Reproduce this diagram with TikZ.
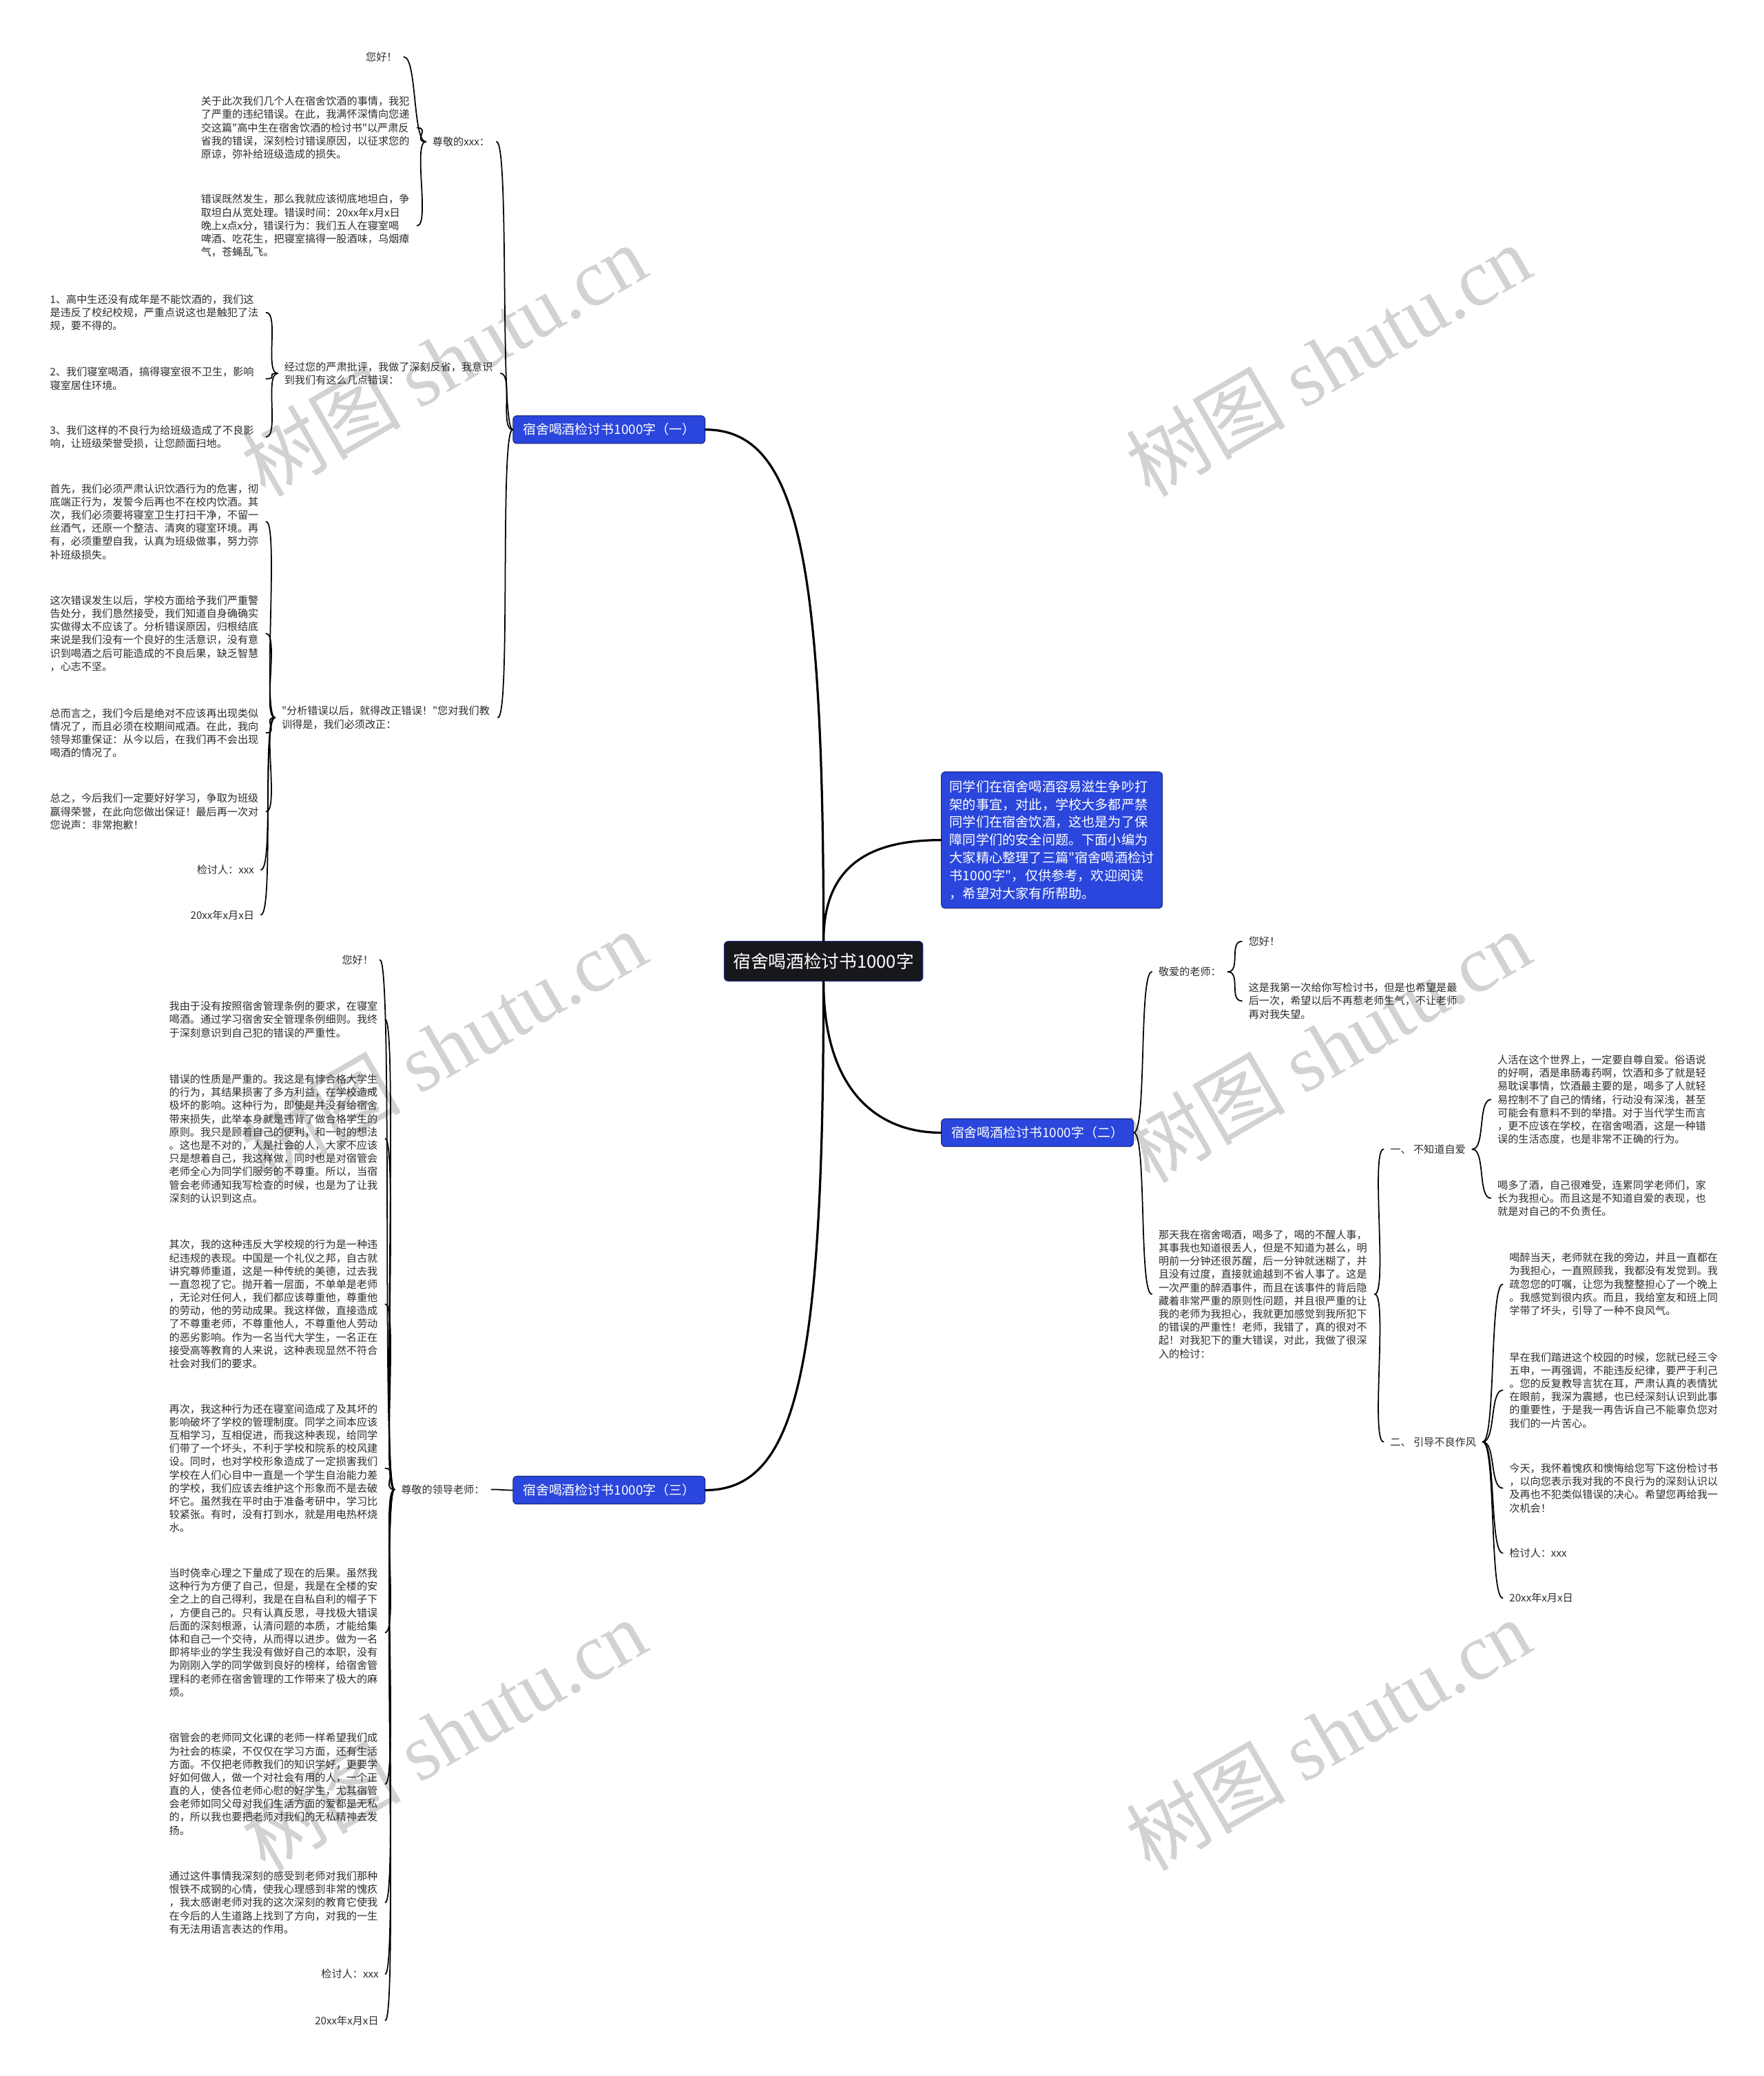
\documentclass[tikz,border=0pt]{standalone}
\usepackage{fontspec}
\newfontfamily\cjkfont{Noto Sans CJK SC}
\newfontfamily\wmfont{Liberation Serif}
\definecolor{mapblue}{RGB}{42,70,220}
\definecolor{mapnavy}{RGB}{22,38,120}
\definecolor{topicfill}{RGB}{24,24,28}
\definecolor{inkgray}{RGB}{45,45,45}
\definecolor{markgray}{RGB}{210,210,210}
\begin{document}
\begin{tikzpicture}[x=0.5mm,y=0.5mm,
  topicbox/.style={fill=topicfill,draw=mapblue!60!black,line width=0.8pt,rounded corners=1.5mm,text=white,font=\cjkfont\fontsize{19}{22}\selectfont,minimum width=75mm,minimum height=15mm,inner sep=0pt},
  branchbox/.style={fill=mapblue,draw=mapnavy,line width=0.8pt,rounded corners=1.5mm,text=white,font=\cjkfont\fontsize{14}{17}\selectfont,minimum width=72.5mm,minimum height=10.5mm,inner sep=0pt},
  introbox/.style={branchbox,align=left,font=\cjkfont\fontsize{14.2}{19.1}\selectfont,minimum width=83.5mm,minimum height=51.5mm},
  leaf/.style={text=inkgray,font=\cjkfont\fontsize{11.2}{14.2}\selectfont,align=left,inner xsep=7pt,inner ysep=0pt},
  para/.style={leaf,text width=225pt},
  wmark/.style={text=markgray,rotate=30,font=\cjkfont\fontsize{86}{86}\selectfont},
  conn/.style={line width=1.3pt,line cap=round},
  trunk/.style={line width=2.4pt,line cap=round},
  lconn/.style={conn,out=180,in=0,distance=5mm},
  rconn/.style={conn,out=0,in=180,distance=5mm}]

\fill[white] (0,0) rectangle (1332,-1568);
\useasboundingbox (0,0) rectangle (1332,-1568);

% watermarks
\node[wmark] (wm1) at (335,-272) {树图 {\wmfont shutu.cn}};
\node[wmark] (wm2) at (1003,-272) {树图 {\wmfont shutu.cn}};
\node[wmark] (wm3) at (335,-790) {树图 {\wmfont shutu.cn}};
\node[wmark] (wm4) at (1003,-790) {树图 {\wmfont shutu.cn}};
\node[wmark] (wm5) at (335,-1310) {树图 {\wmfont shutu.cn}};
\node[wmark] (wm6) at (1003,-1310) {树图 {\wmfont shutu.cn}};

% centre
\node[topicbox] (topic) at (622,-726) {宿舍喝酒检讨书1000字};
\node[introbox] (intro) at (794.5,-634.5) {同学们在宿舍喝酒容易滋生争吵打\\
架的事宜，对此，学校大多都严禁\\
同学们在宿舍饮酒，这也是为了保\\
障同学们的安全问题。下面小编为\\
大家精心整理了三篇"宿舍喝酒检讨\\
书1000字"，仅供参考，欢迎阅读\\
，希望对大家有所帮助。};
\node[branchbox] (b1) at (460,-324.5) {宿舍喝酒检讨书1000字（一）};
\node[branchbox] (b2) at (783.5,-855.5) {宿舍喝酒检讨书1000字（二）};
\node[branchbox] (b3) at (460,-1125.5) {宿舍喝酒检讨书1000字（三）};

% branch one
\node[leaf,anchor=east] (b1a) at (375,-107) {尊敬的xxx：};
\node[leaf,anchor=east] (b1a1) at (305,-43) {您好！};
\node[para,anchor=east] (b1a2) at (315,-96.5) {关于此次我们几个人在宿舍饮酒的事情，我犯\\
了严重的违纪错误。在此，我满怀深情向您递\\
交这篇"高中生在宿舍饮酒的检讨书"以严肃反\\
省我的错误，深刻检讨错误原因，以征求您的\\
原谅，弥补给班级造成的损失。};
\node[para,anchor=east] (b1a3) at (315,-170.5) {错误既然发生，那么我就应该彻底地坦白，争\\
取坦白从宽处理。错误时间：20xx年x月x日\\
晚上x点x分，错误行为：我们五人在寝室喝\\
啤酒、吃花生，把寝室搞得一股酒味，乌烟瘴\\
气，苍蝇乱飞。};
\node[para,anchor=east] (b1b) at (378,-282) {经过您的严肃批评，我做了深刻反省，我意识\\
到我们有这么几点错误：};
\node[para,anchor=east] (b1b1) at (201,-236) {1、高中生还没有成年是不能饮酒的，我们这\\
是违反了校纪校规，严重点说这也是触犯了法\\
规，要不得的。};
\node[para,anchor=east] (b1b2) at (201,-286) {2、我们寝室喝酒，搞得寝室很不卫生，影响\\
寝室居住环境。};
\node[para,anchor=east] (b1b3) at (201,-330) {3、我们这样的不良行为给班级造成了不良影\\
响，让班级荣誉受损，让您颜面扫地。};
\node[para,anchor=east] (b1c) at (376,-542) {"分析错误以后，就得改正错误！"您对我们教\\
训得是，我们必须改正：};
\node[para,anchor=east] (b1c1) at (201,-394) {首先，我们必须严肃认识饮酒行为的危害，彻\\
底端正行为，发誓今后再也不在校内饮酒。其\\
次，我们必须要将寝室卫生打扫干净，不留一\\
丝酒气，还原一个整洁、清爽的寝室环境。再\\
有，必须重塑自我，认真为班级做事，努力弥\\
补班级损失。};
\node[para,anchor=east] (b1c2) at (201,-478.5) {这次错误发生以后，学校方面给予我们严重警\\
告处分，我们恳然接受，我们知道自身确确实\\
实做得太不应该了。分析错误原因，归根结底\\
来说是我们没有一个良好的生活意识，没有意\\
识到喝酒之后可能造成的不良后果，缺乏智慧\\
，心志不坚。};
\node[para,anchor=east] (b1c3) at (201,-553.5) {总而言之，我们今后是绝对不应该再出现类似\\
情况了，而且必须在校期间戒酒。在此，我向\\
领导郑重保证：从今以后，在我们再不会出现\\
喝酒的情况了。};
\node[para,anchor=east] (b1c4) at (201,-613) {总之，今后我们一定要好好学习，争取为班级\\
赢得荣誉，在此向您做出保证！最后再一次对\\
您说声：非常抱歉！};
\node[leaf,anchor=east] (b1c5) at (197,-657) {检讨人：xxx};
\node[leaf,anchor=east] (b1c6) at (197,-691) {20xx年x月x日};

% branch two
\node[leaf,anchor=west] (b2a) at (870,-734) {敬爱的老师：};
\node[leaf,anchor=west] (b2a1) at (938,-711) {您好！};
\node[para,anchor=west] (b2a2) at (938,-756) {这是我第一次给你写检讨书，但是也希望是最\\
后一次，希望以后不再惹老师生气，不让老师\\
再对我失望。};
\node[para,anchor=west] (b2b) at (870,-977.5) {那天我在宿舍喝酒，喝多了，喝的不醒人事，\\
其事我也知道很丢人，但是不知道为甚么，明\\
明前一分钟还很苏醒，后一分钟就迷糊了，并\\
且没有过度，直接就逾越到不省人事了。这是\\
一次严重的醉酒事件，而且在该事件的背后隐\\
藏着非常严重的原则性问题，并且很严重的让\\
我的老师为我担心，我就更加感觉到我所犯下\\
的错误的严重性！老师，我错了，真的很对不\\
起！对我犯下的重大错误，对此，我做了很深\\
入的检讨：};
\node[leaf,anchor=west] (b2c) at (1045,-868) {一、 不知道自爱};
\node[para,anchor=west] (b2c1) at (1126,-830.5) {人活在这个世界上，一定要自尊自爱。俗语说\\
的好啊，酒是串肠毒药啊，饮酒和多了就是轻\\
易耽误事情，饮酒最主要的是，喝多了人就轻\\
易控制不了自己的情绪，行动没有深浅，甚至\\
可能会有意料不到的举措。对于当代学生而言\\
，更不应该在学校，在宿舍喝酒，这是一种错\\
误的生活态度，也是非常不正确的行为。};
\node[para,anchor=west] (b2c2) at (1126,-905) {喝多了酒，自己很难受，连累同学老师们，家\\
长为我担心。而且这是不知道自爱的表现，也\\
就是对自己的不负责任。};
\node[leaf,anchor=west] (b2d) at (1045,-1089) {二、 引导不良作风};
\node[para,anchor=west] (b2d1) at (1135,-970) {喝醉当天，老师就在我的旁边，并且一直都在\\
为我担心，一直照顾我，我都没有发觉到。我\\
疏忽您的叮嘱，让您为我整整担心了一个晚上\\
。我感觉到很内疚。而且，我给室友和班上同\\
学带了坏头，引导了一种不良风气。};
\node[para,anchor=west] (b2d2) at (1135,-1050) {早在我们踏进这个校园的时候，您就已经三令\\
五申，一再强调，不能违反纪律，要严于利己\\
。您的反复教导言犹在耳，严肃认真的表情犹\\
在眼前，我深为震撼，也已经深刻认识到此事\\
的重要性，于是我一再告诉自己不能辜负您对\\
我们的一片苦心。};
\node[para,anchor=west] (b2d3) at (1135,-1124) {今天，我怀着愧疚和懊悔给您写下这份检讨书\\
，以向您表示我对我的不良行为的深刻认识以\\
及再也不犯类似错误的决心。希望您再给我一\\
次机会！};
\node[leaf,anchor=west] (b2d4) at (1135,-1173) {检讨人：xxx};
\node[leaf,anchor=west] (b2d5) at (1135,-1207) {20xx年x月x日};

% branch three
\node[leaf,anchor=east] (b3a) at (371,-1125) {尊敬的领导老师：};
\node[leaf,anchor=east] (b3a1) at (287,-725) {您好！};
\node[para,anchor=east] (b3a2) at (291,-770) {我由于没有按照宿舍管理条例的要求，在寝室\\
喝酒。通过学习宿舍安全管理条例细则。我终\\
于深刻意识到自己犯的错误的严重性。};
\node[para,anchor=east] (b3a3) at (291,-860) {错误的性质是严重的。我这是有悖合格大学生\\
的行为，其结果损害了多方利益，在学校造成\\
极坏的影响。这种行为，即使是并没有给宿舍\\
带来损失，此举本身就是违背了做合格学生的\\
原则。我只是顾着自己的便利，和一时的想法\\
。这也是不对的，人是社会的人，大家不应该\\
只是想着自己，我这样做，同时也是对宿管会\\
老师全心为同学们服务的不尊重。所以，当宿\\
管会老师通知我写检查的时候，也是为了让我\\
深刻的认识到这点。};
\node[para,anchor=east] (b3a4) at (291,-985) {其次，我的这种违反大学校规的行为是一种违\\
纪违规的表现。中国是一个礼仪之邦，自古就\\
讲究尊师重道，这是一种传统的美德，过去我\\
一直忽视了它。抛开着一层面，不单单是老师\\
，无论对任何人，我们都应该尊重他，尊重他\\
的劳动，他的劳动成果。我这样做，直接造成\\
了不尊重老师，不尊重他人，不尊重他人劳动\\
的恶劣影响。作为一名当代大学生，一名正在\\
接受高等教育的人来说，这种表现显然不符合\\
社会对我们的要求。};
\node[para,anchor=east] (b3a5) at (291,-1109) {再次，我这种行为还在寝室间造成了及其坏的\\
影响破坏了学校的管理制度。同学之间本应该\\
互相学习，互相促进，而我这种表现，给同学\\
们带了一个坏头，不利于学校和院系的校风建\\
设。同时，也对学校形象造成了一定损害我们\\
学校在人们心目中一直是一个学生自治能力差\\
的学校，我们应该去维护这个形象而不是去破\\
坏它。虽然我在平时由于准备考研中，学习比\\
较紧张。有时，没有打到水，就是用电热杯烧\\
水。};
\node[para,anchor=east] (b3a6) at (291,-1233) {当时侥幸心理之下量成了现在的后果。虽然我\\
这种行为方便了自己，但是，我是在全楼的安\\
全之上的自己得利，我是在自私自利的帽子下\\
，方便自己的。只有认真反思，寻找极大错误\\
后面的深刻根源，认清问题的本质，才能给集\\
体和自己一个交待，从而得以进步。做为一名\\
即将毕业的学生我没有做好自己的本职，没有\\
为刚刚入学的同学做到良好的榜样，给宿舍管\\
理科的老师在宿舍管理的工作带来了极大的麻\\
烦。};
\node[para,anchor=east] (b3a7) at (291,-1347.5) {宿管会的老师同文化课的老师一样希望我们成\\
为社会的栋梁，不仅仅在学习方面，还有生活\\
方面。不仅把老师教我们的知识学好，更要学\\
好如何做人，做一个对社会有用的人，一个正\\
直的人，使各位老师心慰的好学生，尤其宿管\\
会老师如同父母对我们生活方面的爱都是无私\\
的，所以我也要把老师对我们的无私精神去发\\
扬。};
\node[para,anchor=east] (b3a8) at (291,-1437) {通过这件事情我深刻的感受到老师对我们那种\\
恨铁不成钢的心情，使我心理感到非常的愧疚\\
，我太感谢老师对我的这次深刻的教育它使我\\
在今后的人生道路上找到了方向，对我的一生\\
有无法用语言表达的作用。};
\node[leaf,anchor=east] (b3a9) at (291,-1491) {检讨人：xxx};
\node[leaf,anchor=east] (b3a10) at (291,-1526) {20xx年x月x日};

% connectors
\draw[trunk] (topic.north) to[out=90,in=0,out distance=145mm,in distance=35mm] (b1.east);
\draw[trunk] (topic.north) to[out=90,in=180,out distance=30mm,in distance=25mm] (intro.west);
\draw[trunk] (topic.south) to[out=-90,in=180,out distance=40mm,in distance=25mm] (b2.west);
\draw[trunk] (topic.south) to[out=-90,in=0,out distance=145mm,in distance=35mm] (b3.east);

\foreach \c in {b1a,b1b,b1c} \draw[lconn] (b1.west) to (\c.east);
\foreach \c in {b1a1,b1a2,b1a3} \draw[lconn] (b1a.west) to (\c.east);
\foreach \c in {b1b1,b1b2,b1b3} \draw[lconn] (b1b.west) to (\c.east);
\foreach \c in {b1c1,b1c2,b1c3,b1c4,b1c5,b1c6} \draw[lconn] (b1c.west) to (\c.east);

\foreach \c in {b2a,b2b} \draw[rconn] (b2.east) to (\c.west);
\foreach \c in {b2a1,b2a2} \draw[rconn] (b2a.east) to (\c.west);
\foreach \c in {b2c,b2d} \draw[rconn] (b2b.east) to (\c.west);
\foreach \c in {b2c1,b2c2} \draw[rconn] (b2c.east) to (\c.west);
\foreach \c in {b2d1,b2d2,b2d3,b2d4,b2d5} \draw[rconn] (b2d.east) to (\c.west);

\draw[lconn] (b3.west) to (b3a.east);
\foreach \c in {b3a1,b3a2,b3a3,b3a4,b3a5,b3a6,b3a7,b3a8,b3a9,b3a10} \draw[lconn] (b3a.west) to (\c.east);
\end{tikzpicture}
\end{document}
